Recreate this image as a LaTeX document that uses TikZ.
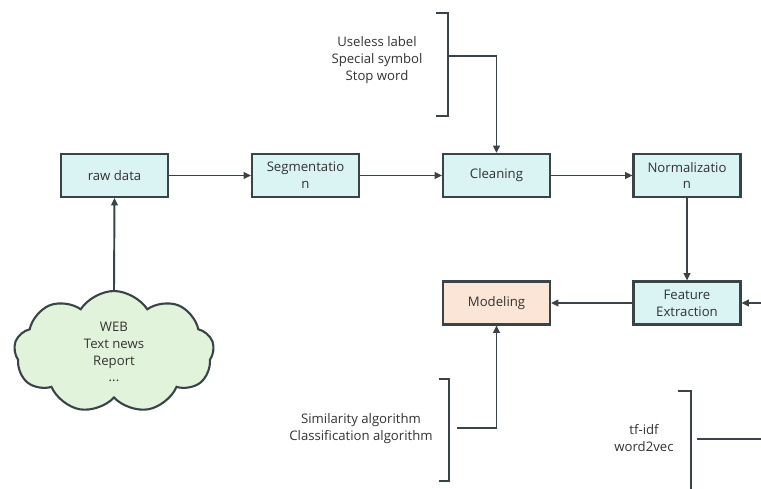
\documentclass[tikz,border=0pt]{standalone}
\usepackage{fontspec}
\setmainfont{Open Sans}
\usetikzlibrary{arrows.meta,shapes.symbols}
\definecolor{boxblue}{HTML}{DAF3F3}
\definecolor{boxpeach}{HTML}{FBE5D6}
\definecolor{cloudgreen}{HTML}{E2F3DB}
\definecolor{linegray}{HTML}{3A4448}
\definecolor{txtgray}{HTML}{333333}
\begin{document}
\begin{tikzpicture}[x=0.02cm,y=-0.02cm,line width=1.1pt,
    font=\fontsize{7.5}{9.6}\selectfont,text=txtgray]
    \tikzstyle{stage}=[draw=linegray,fill=boxblue,line width=1.2pt,minimum width=2.14cm,minimum height=0.86cm,align=center,inner sep=1pt]
    \tikzstyle{arr}=[draw=linegray,-{Triangle[length=4.2pt,width=3.8pt]}]
    \tikzstyle{brk}=[draw=linegray]
    \tikzstyle{note}=[align=center,inner sep=0pt]
    \useasboundingbox (0,0) rectangle (761,489);
    % pipeline
    \node[stage] (raw) at (114.5,175.5){raw data};
    \node[stage] (seg) at (305.5,175.5){Segmentatio\\n};
    \node[stage] (clean) at (496.5,175.5){Cleaning};
    \node[stage] (norm) at (687,175.5){Normalizatio\\n};
    \node[stage] (feat) at (687,303){Feature\\Extraction};
    \node[stage,fill=boxpeach] (model) at (496.5,303){Modeling};
    \node[cloud,draw=linegray,fill=cloudgreen,line width=1.2pt,cloud puffs=9,cloud puff arc=115,aspect=1.6,
      minimum width=4cm,minimum height=2.44cm,align=center,inner sep=0pt] (src) at (114,352){WEB\\Text news\\Report\\...};
    % side notes
    \node[note] (cleannote) at (377,60){Useless label\\Special symbol\\Stop word};
    \node[note] (modelnote) at (361,429){Similarity algorithm\\Classification algorithm};
    \node[note] (featnote) at (644,438){tf-idf\\word2vec};
    \draw[brk] (436,13) -- (448,13) -- (448,116) -- (436,116);
    \draw[brk] (439,379) -- (449,379) -- (449,481) -- (439,481);
    \draw[brk] (678,391) -- (691,391) -- (691,489);
    \coordinate (brA) at (448,56);
    \coordinate (brB) at (457,428);
    \coordinate (brC) at (697,439);
    \coordinate (edgeC) at (761,439);
    \coordinate (edgeF) at (761,303);
    % connectors
    \draw[arr] (src.north) -- (raw.south);
    \draw[arr] (raw) -- (seg);
    \draw[arr] (seg) -- (clean);
    \draw[arr] (clean) -- (norm);
    \draw[arr] (norm) -- (feat);
    \draw[arr] (feat) -- (model);
    \draw[arr] (edgeF) -- (feat.east);
    \draw[arr] (brA) -| (clean.north);
    \draw[arr] (brB) -| (model.south);
    \draw[brk] (brC) -- (edgeC);
\end{tikzpicture}
\end{document}
